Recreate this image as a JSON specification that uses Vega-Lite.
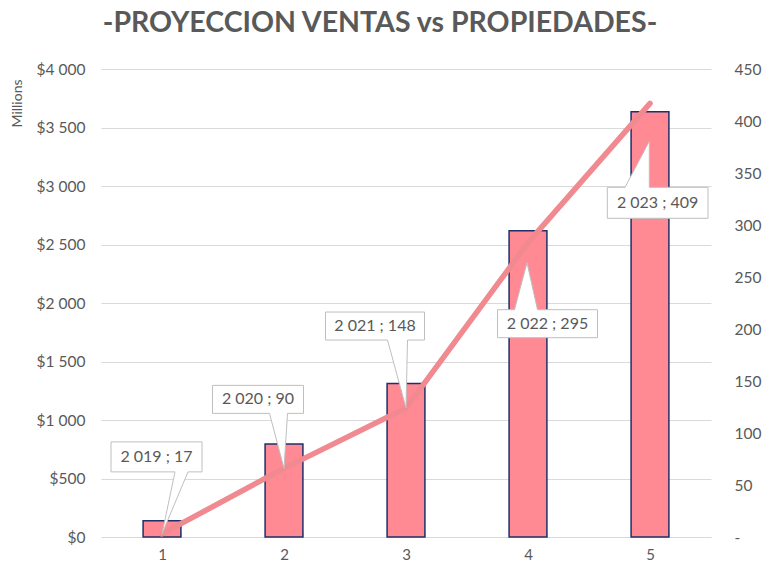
{
  "$schema": "https://vega.github.io/schema/vega-lite/v6.json",
  "width": 610,
  "height": 468,
  "autosize": {"type": "none"},
  "padding": {"left": 101, "top": 69, "right": 54, "bottom": 33},
  "background": "white",
  "config": {"view": {"stroke": null}, "font": "Lato"},
  "title": {
    "text": "-PROYECCION VENTAS vs PROPIEDADES-",
    "fontSize": 28.5,
    "fontWeight": "bold",
    "color": "#595959",
    "font": "Lato",
    "anchor": "middle",
    "dx": -26,
    "offset": 25
  },
  "data": {
    "values": [
      {"x": 1, "ventas": 139, "propiedades": 3, "label": "2 019 ; 17"},
      {"x": 2, "ventas": 795, "propiedades": 66, "label": "2 020 ; 90"},
      {"x": 3, "ventas": 1313, "propiedades": 124, "label": "2 021 ; 148"},
      {"x": 4, "ventas": 2618, "propiedades": 283, "label": "2 022 ; 295"},
      {"x": 5, "ventas": 3635, "propiedades": 417, "label": "2 023 ; 409"}
    ]
  },
  "encoding": {
    "x": {
      "field": "x",
      "type": "ordinal",
      "scale": {"paddingInner": 0.69, "paddingOuter": 0.345},
      "axis": {
        "title": null,
        "labelAngle": 0,
        "labelFontSize": 15,
        "labelColor": "#595959",
        "domainColor": "#D9D9D9",
        "tickColor": "#D9D9D9",
        "tickBand": "extent",
        "tickSize": -5,
        "labelPadding": 15
      }
    }
  },
  "layer": [
    {
      "mark": {"type": "bar", "fill": "#FF8A94", "stroke": "#1F2F6B", "strokeWidth": 1.5},
      "encoding": {
        "y": {
          "field": "ventas",
          "type": "quantitative",
          "scale": {"domain": [0, 4000]},
          "axis": {
            "values": [0, 500, 1000, 1500, 2000, 2500, 3000, 3500, 4000],
            "labelExpr": "'$' + replace(format(datum.value, ',.0f'), ',', ' ')",
            "title": "Millions",
            "titleFontSize": 14,
            "titleFontWeight": "normal",
            "titleColor": "#595959",
            "titleX": -84,
            "titleY": 34,
            "titleAngle": -90,
            "titleAlign": "center",
            "titleBaseline": "middle",
            "domain": false,
            "ticks": false,
            "gridColor": "#D9D9D9",
            "labelPadding": 16,
            "labelFontSize": 15.5,
            "labelColor": "#595959"
          }
        }
      }
    },
    {
      "encoding": {
        "y": {
          "field": "propiedades",
          "type": "quantitative",
          "scale": {"domain": [0, 450]},
          "axis": {
            "orient": "right",
            "title": null,
            "values": [0, 50, 100, 150, 200, 250, 300, 350, 400, 450],
            "labelExpr": "datum.value == 0 ? '-' : datum.label",
            "grid": false,
            "domain": false,
            "ticks": false,
            "labelPadding": 23,
            "labelFontSize": 15.5,
            "labelColor": "#595959"
          }
        }
      },
      "layer": [
        {
          "mark": {"type": "line", "color": "#F08A90", "strokeWidth": 5.5, "strokeCap": "round", "strokeJoin": "round"}
        },
        {
          "mark": {"type": "point", "size": 4, "filled": true, "fill": "white", "stroke": "#BFBFBF", "strokeWidth": 1, "opacity": 1, "fillOpacity": 1},
          "encoding": {
            "shape": {
              "field": "x",
              "type": "nominal",
              "scale": {
                "domain": [1, 2, 3, 4, 5],
                "range": [
                  "M0,0L13,-62L-51,-62L-51,-92L40,-92L40,-62L26,-62Z",
                  "M0,0L-14.5,-55L-71.5,-55L-71.5,-83L19.5,-83L19.5,-55L3.5,-55Z",
                  "M0,0L-18.5,-68L-80.5,-68L-80.5,-96L18.5,-96L18.5,-68L1.5,-68Z",
                  "M-1,20L9.5,67L69.5,67L69.5,95L-30.5,95L-30.5,67L-13.5,67Z",
                  "M-0.7,38L-0.7,84L58,84L58,115L-42.7,115L-42.7,84L-25,84Z"
                ]
              },
              "legend": null
            }
          }
        },
        {
          "mark": {
            "type": "text",
            "fontSize": 16,
            "color": "#595959",
            "align": "center",
            "baseline": "middle",
            "dx": {"expr": "[-5.5, -26, -31, 19.5, 7.6][datum.x - 1]"},
            "dy": {"expr": "[-77, -69, -82, 81, 99.5][datum.x - 1]"}
          },
          "encoding": {"text": {"field": "label", "type": "nominal"}}
        }
      ]
    }
  ],
  "resolve": {"scale": {"y": "independent"}}
}
